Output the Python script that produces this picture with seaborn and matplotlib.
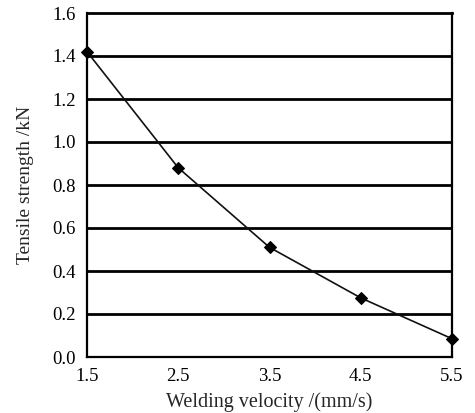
import matplotlib
matplotlib.use("Agg")
import matplotlib.pyplot as plt
import seaborn as sns
import pandas as pd

velocity = [1.5, 2.5, 3.5, 4.5, 5.5]
strength = [1.42, 0.88, 0.51, 0.275, 0.085]
x_ticks = [1.5, 2.5, 3.5, 4.5, 5.5]
y_ticks = [0.0, 0.2, 0.4, 0.6, 0.8, 1.0, 1.2, 1.4, 1.6]

sns.set_style("white")
plt.rcParams['font.family'] = ['Liberation Serif', 'DejaVu Serif']

df = pd.DataFrame({"v": velocity, "s": strength})

fig = plt.figure(figsize=(4.75, 4.13), dpi=100)
ax = fig.add_axes([87/475, 1-357/413, (452-87)/475, (357-13)/413])

for yv in y_ticks[1:-1]:
    ax.axhline(yv, color="black", lw=2.0, zorder=1)

sns.lineplot(data=df, x="v", y="s", ax=ax, color="#111111", lw=1.2,
             marker="D", markersize=6, markeredgecolor="black",
             markerfacecolor="black", zorder=3, clip_on=False)

ax.set_xlim(1.5, 5.5)
ax.set_ylim(0, 1.6)
ax.set_xticks(x_ticks)
ax.set_xticklabels([f"{t:.1f}" for t in x_ticks])
ax.set_yticks(y_ticks)
ax.set_yticklabels([f"{t:.1f}" for t in y_ticks])
ax.tick_params(axis="x", direction="in", length=2, width=1.5, labelsize=13.5, pad=8, colors="black")
ax.tick_params(axis="y", length=0, labelsize=13.5, pad=8, colors="black")
for s in ax.spines.values():
    s.set_color("black")
    s.set_linewidth(1.6)
ax.spines["top"].set_linewidth(2.0)

ax.set_xlabel("Welding velocity /(mm/s)", fontsize=14.5, labelpad=5)
ax.set_ylabel("Tensile strength /kN", fontsize=14, labelpad=13)

fig.savefig("out.png", dpi=100)
